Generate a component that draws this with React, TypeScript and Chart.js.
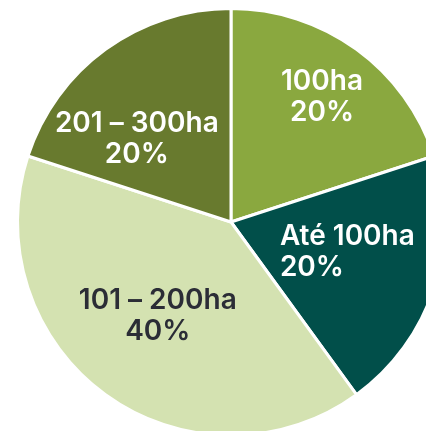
import React, { useEffect, useRef } from "react";
import { Chart, registerables } from "chart.js";

Chart.register(...registerables);

// ---- data ----
const categories: string[] = ["100ha", "Até 100ha", "101 – 200ha", "201 – 300ha"];
const shares: number[] = [20, 20, 40, 20];
const percentLabels: string[] = ["20%", "20%", "40%", "20%"];

// ---- styles ----
const sliceColors: string[] = ["#8aa83f", "#014f4a", "#d4e2b1", "#687a2e"];
const textColors: string[] = ["#ffffff", "#ffffff", "#2b2d36", "#ffffff"];
const labelAlign: CanvasTextAlign[] = ["center", "left", "center", "center"];
// label placement relative to each arc: angle shift from mid-angle (deg) and fraction of radius
const labelAngleShift: number[] = [0, 14, 2, -12.7];
const labelRadiusFrac: number[] = [0.725, 0.27, 0.557, 0.587];

const FONT = "600 28px Inter, 'Noto Sans', sans-serif";
const LINE_GAP = 31;

const labelPlugin = {
  id: "sliceLabels",
  afterDatasetsDraw(chart: any) {
    const meta = chart.getDatasetMeta(0);
    const ctx = chart.ctx as CanvasRenderingContext2D;
    ctx.save();
    ctx.font = FONT;
    ctx.textBaseline = "middle";
    meta.data.forEach((arc: any, i: number) => {
      const { x, y, startAngle, endAngle, outerRadius } = arc.getProps(
        ["x", "y", "startAngle", "endAngle", "outerRadius"],
        true
      );
      const mid = (startAngle + endAngle) / 2 + (labelAngleShift[i] * Math.PI) / 180;
      const r = outerRadius * labelRadiusFrac[i];
      const lx = x + Math.cos(mid) * r;
      const ly = y + Math.sin(mid) * r;
      ctx.fillStyle = textColors[i];
      ctx.textAlign = labelAlign[i];
      const lines = [chart.data.labels[i], percentLabels[i]];
      lines.forEach((t: string, k: number) => {
        ctx.fillText(t, lx, ly + (k - (lines.length - 1) / 2) * LINE_GAP);
      });
    });
    ctx.restore();
  },
};

export default function App() {
  const canvasRef = useRef<HTMLCanvasElement | null>(null);

  useEffect(() => {
    if (!canvasRef.current) return;
    const chart = new Chart(canvasRef.current, {
      type: "pie",
      data: {
        labels: categories,
        datasets: [
          {
            data: shares,
            backgroundColor: sliceColors,
            borderColor: "#ffffff",
            borderWidth: 3,
            hoverOffset: 0,
          },
        ],
      },
      options: {
        responsive: false,
        animation: false,
        devicePixelRatio: 1,
        layout: { padding: { top: 7, bottom: 7, left: 15, right: 15 } },
        plugins: {
          legend: { display: false },
          tooltip: { enabled: false },
        },
        events: [],
      },
      plugins: [labelPlugin],
    });
    return () => chart.destroy();
  }, []);

  return (
    <div style={{ position: "fixed", left: 0, top: 0, width: 426, height: 431, overflow: "hidden", background: "#ffffff" }}>
      <canvas ref={canvasRef} width={462} height={444} style={{ display: "block" }} />
    </div>
  );
}
